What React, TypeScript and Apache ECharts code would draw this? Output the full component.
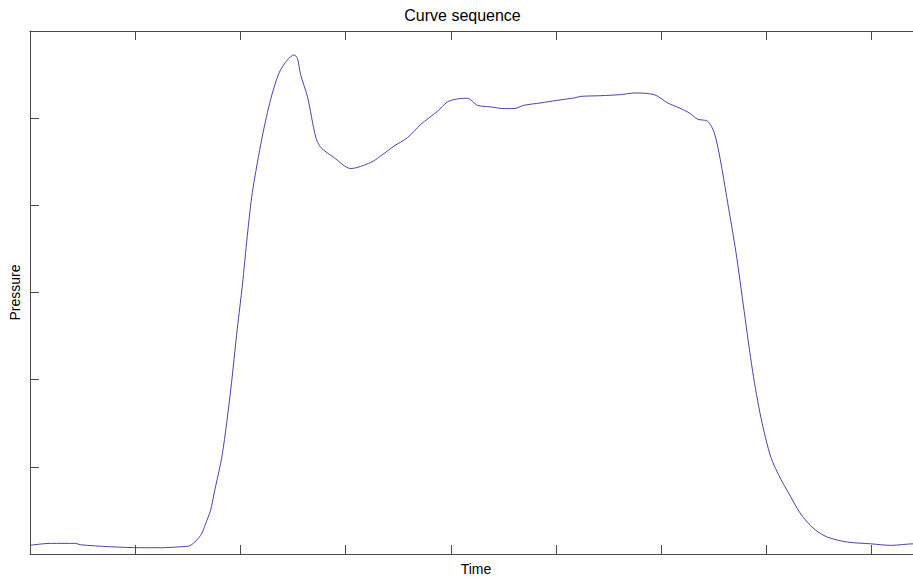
import React, { useEffect, useRef } from "react";
import * as echarts from "echarts";

const titleText = "Curve sequence";
const xName = "Time";
const yName = "Pressure";

const timeValues = [
  0, 19.5, 43.3, 48, 76.6, 105.1, 124.1, 143.2, 152.7, 162.2, 166.9, 171.7, 174.9, 182.8,
  190.7, 197.1, 201.9, 206.6, 211.4, 220.9, 228.8, 236.7, 244.7, 251.0, 254.2, 257.3, 263.7,
  271.6, 276.4, 289.0, 304.9, 323.9, 333.4, 346.1, 358.8, 371.5, 387.4, 396.9, 406.4, 415.9,
  425.4, 438.1, 450.7, 460.2, 469.7, 485.6, 501.5, 517.3, 523.7, 542.7, 561.7, 574.4, 593.4,
  606.2, 617.2, 626.7, 634.7, 644.2, 650.5, 656.2, 663.2, 671.1, 679.0, 687.0, 694.9, 704.4,
  713.9, 719.9, 732.7, 745.3, 758.0, 777.0, 799.3, 818.3, 840.5, 848,
];

const pressureValues = [
  0.1, 0.122, 0.122, 0.106, 0.083, 0.072, 0.072, 0.083, 0.099, 0.213, 0.346, 0.502, 0.688, 1.144,
  1.871, 2.589, 3.083, 3.653, 4.149, 4.794, 5.216, 5.517, 5.669, 5.726, 5.688, 5.498, 5.25,
  4.785, 4.665, 4.548, 4.422, 4.491, 4.566, 4.68, 4.776, 4.928, 5.079, 5.187, 5.221, 5.228,
  5.148, 5.129, 5.11, 5.11, 5.148, 5.175, 5.205, 5.232, 5.25, 5.258, 5.27, 5.289, 5.27,
  5.175, 5.118, 5.061, 4.988, 4.965, 4.833, 4.528, 4.034, 3.464, 2.78, 2.095, 1.563, 1.107,
  0.855, 0.727, 0.46, 0.289, 0.194, 0.137, 0.117, 0.099, 0.117, 0.115,
];

const xMin = 0;
const xMax = 848;
const xInterval = 100;
const yMin = 0;
const yMax = 6;
const yInterval = 1;

const FONT = "'Liberation Sans', Arial, Helvetica, sans-serif";
const AXIS_COLOR = "#4a4a4a";

export default function App() {
  const ref = useRef<HTMLDivElement>(null);

  useEffect(() => {
    if (!ref.current) return;
    const chart = echarts.init(ref.current, undefined, { renderer: "svg" });
    const data = timeValues.map((t, i) => [t, pressureValues[i]]);

    const axisCommon = {
      axisLine: { show: true, onZero: false, lineStyle: { color: AXIS_COLOR, width: 1 } },
      axisTick: { show: true, inside: true, length: 9, lineStyle: { color: AXIS_COLOR, width: 1 } },
      axisLabel: { show: false },
      splitLine: { show: false },
    };

    chart.setOption({
      animation: false,
      backgroundColor: "#ffffff",
      textStyle: { fontFamily: FONT },
      title: {
        text: titleText,
        left: "center",
        top: 2,
        textStyle: { color: "#000", fontSize: 16, fontWeight: "normal", fontFamily: FONT },
      },
      grid: { left: 30, top: 31, right: 3, bottom: 24, containLabel: false },
      xAxis: [
        {
          type: "value",
          position: "bottom",
          min: xMin,
          max: xMax,
          interval: xInterval,
          name: xName,
          nameLocation: "middle",
          nameGap: 8,
          nameTextStyle: { color: "#000", fontSize: 14, fontFamily: FONT, verticalAlign: "top" },
          ...axisCommon,
        },
        {
          type: "value",
          position: "top",
          min: xMin,
          max: xMax,
          interval: xInterval,
          ...axisCommon,
        },
      ],
      yAxis: [
        {
          type: "value",
          position: "left",
          min: yMin,
          max: yMax,
          interval: yInterval,
          name: yName,
          nameLocation: "middle",
          nameGap: 8,
          nameTextStyle: { color: "#000", fontSize: 14, fontFamily: FONT },
          ...axisCommon,
        },
        {
          type: "value",
          position: "right",
          min: yMin,
          max: yMax,
          interval: yInterval,
          ...axisCommon,
        },
      ],
      series: [
        {
          type: "line",
          data,
          xAxisIndex: 0,
          yAxisIndex: 0,
          showSymbol: false,
          symbol: "none",
          smooth: 0.28,
          lineStyle: { color: "#4545aa", width: 1 },
        },
      ],
    });

    return () => chart.dispose();
  }, []);

  return (
    <div style={{ position: "absolute", left: 0, top: 0, width: 913, height: 581, overflow: "hidden", background: "#fff" }}>
      <div ref={ref} style={{ width: 925, height: 581 }} />
    </div>
  );
}
